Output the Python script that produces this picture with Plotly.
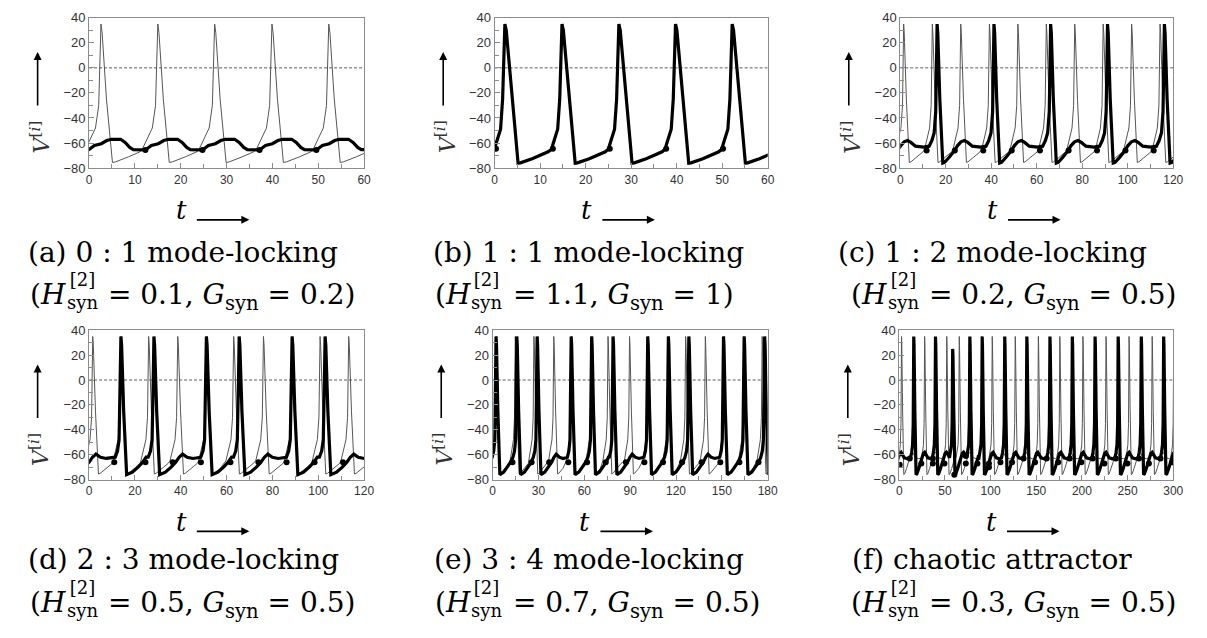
import plotly.graph_objects as go

W, H = 1207, 638

# ---------------- data ----------------
T_END = [60, 60, 120, 120, 180, 300]

# spike-peak times of neuron 1 (thin line) and neuron 2 (thick line)
a_thin = [-9.85, 2.6, 15.0, 27.4, 39.9, 52.3, 64.7]
a_thick_cycle = [-0.13, 12.3, 24.75, 37.2, 49.6, 62.0]      # (a) thick does not spike
b_thick = [-10.25, 2.25, 14.8, 27.3, 39.75, 52.2, 64.7]
c_thin = [-11.0, 1.5, 14.1, 26.6, 39.2, 51.7, 64.2, 76.7, 89.2, 101.7, 114.2, 126.7]
c_thick = [-8.8, 16.2, 41.2, 66.1, 91.1, 116.1, 141.0]
d_thin = [-10.8, 1.6, 13.9, 26.0, 38.7, 51.2, 63.1, 76.1, 88.6, 100.8, 113.3, 125.7]
d_thick = [-9.5, 13.9, 28.3, 51.2, 65.5, 88.6, 103.0, 126.0]
e_thin = [-10.3, 2.2, 14.8, 27.0, 40.0, 51.6, 64.5, 75.5, 89.6, 101.6, 114.8, 126.3,
          139.2, 151.3, 164.3, 176.4, 189.0]
e_thick = [-20.5, 2.2, 15.8, 29.1, 51.4, 64.8, 78.8, 101.5, 115.0, 128.4, 151.1, 164.6,
           178.0, 200.0]
f_thin = [-10.0, 2.5, 27.8, 52.0, 65.7, 90.3, 101.8, 127.0, 152.3, 175.8, 201.1, 226.4,
          251.6, 276.9, 300.5, 325.0]
f_thick = [-10.0, 15.9, 39.7, 58.5, 77.3, 90.8, 115.5, 139.7, 165.0, 189.5, 214.4, 239.7,
           265.0, 289.5, 314.0]
f_thick_peak = [35, 35, 35, 25, 35, 35, 35, 35, 35, 35, 35, 35, 35, 35, 35]

# section points (black dots)
a_dot_t = [12.3, 24.75, 37.2, 49.6]
a_dot_v = [-65.5, -65.5, -65.5, -65.5]
b_dot_t = [0.3, 12.8, 25.3, 37.7, 50.2]
b_dot_v = [-64.5, -64.5, -64.5, -64.5, -64.5]
c_dot_t = [11.6, 24.0, 36.5, 49.0, 61.4, 74.0, 86.5, 99.0, 111.4]
c_dot_v = [-66, -66, -66, -66, -66, -66, -66, -66, -66]
d_dot_t = [11.0, 24.6, 36.5, 48.8, 61.7, 73.9, 86.2, 98.4, 110.8]
d_dot_v = [-66, -66, -66, -66, -66, -66, -66, -66, -66]
e_dot_t = [13.0, 25.5, 37.0, 49.5, 61.8, 74.0, 87.2, 99.3, 111.5, 124.0, 136.8, 149.0,
           161.5, 174.0]
e_dot_v = [-66, -66, -66, -66, -66, -66, -66, -66, -66, -66, -66, -66, -66, -66]
f_dot_t = [0.5, 11.5, 24.2, 36.8, 36.8, 49.5, 60.3, 72.9, 72.9, 85.6, 98.2, 98.2, 110.8,
           123.5, 136.1, 148.7, 161.4, 174.0, 186.6, 199.3, 211.9, 224.6, 237.2, 249.8,
           262.5, 273.3, 286.0, 298.6]
f_dot_v = [-68, -63, -67, -63, -67, -67, -76, -61, -67, -67, -67, -70, -66, -66, -63, -66,
           -63, -66, -63, -66, -63, -67, -63, -67, -63, -67, -63, -66]

# waveform knots: (offset from spike peak, voltage)
PEAK_V = 35
THIN_POST = [(0.25, 28), (1.2, -25), (2.5, -75.5), (3.2, -75), (6.0, -71), (8.5, -67)]
THIN_PRE = [(-3.4, -65), (-2.3, -56), (-1.2, -48), (-0.5, -30), (-0.2, 5)]
A_THICK_V0 = -65.5
A_THICK_POST = [(1.3, -62), (2.8, -60.5), (4.0, -58), (5.0, -57), (7.0, -57), (8.0, -59.5),
                (9.0, -63.5), (9.8, -65.2), (12.0, -65.4)]
B_POST = [(0.3, 30), (1.0, 0), (2.9, -76), (3.4, -75.8), (6.0, -72.5), (9.5, -67)]
B_PRE = [(-2.3, -65), (-1.9, -60), (-1.4, -55), (-0.95, -49), (-0.5, -25), (-0.2, 20)]
SLOW_POST = [(0.3, 28), (1.2, -25), (2.5, -76), (3.3, -75.5), (5.5, -71), (7.5, -66.5),
             (9.0, -62), (10.5, -59), (12.0, -58), (13.5, -59.5), (15.5, -62.5), (19.0, -63.2)]
SLOW_PRE = [(-3.5, -62.5), (-2.3, -58), (-1.3, -52), (-0.6, -35), (-0.2, 10)]
PAIR_POST = [(0.3, 28), (1.2, -25), (2.5, -76), (5.0, -74), (7.5, -70), (9.5, -66),
             (11.0, -62), (12.5, -59.5), (14.5, -62), (17.0, -63)]
PAIR_PRE = [(-2.5, -62), (-1.5, -57), (-0.8, -48), (-0.3, 0)]

XTICK = [10, 10, 20, 20, 30, 50]
XMINOR = [5, 5, 10, 10, 15, 25]

CAP1 = ["(a) 0 : 1 mode-locking", "(b) 1 : 1 mode-locking", "(c) 1 : 2 mode-locking",
        "(d) 2 : 3 mode-locking", "(e) 3 : 4 mode-locking", "(f) chaotic attractor"]
H_VAL = ["0.1", "1.1", "0.2", "0.5", "0.7", "0.3"]
G_VAL = ["0.2", "1", "0.5", "0.5", "0.5", "0.5"]


def build(events, peak, post, pre):
    peaks = peak if isinstance(peak, list) else [peak] * len(events)

    def lim(v, p):
        return v if (p < 0 or v < p) else p - 5

    ts, vs = [], []
    for i, e in enumerate(events):
        ts.append(e)
        vs.append(peaks[i])
        if i + 1 == len(events):
            break
        n = events[i + 1]
        start_pre = n + (pre[0][0] if pre else 0)
        for dt, v in post:
            if e + dt < start_pre - 0.2:
                ts.append(e + dt)
                vs.append(lim(v, peaks[i]))
        for dt, v in pre:
            if n + dt > ts[-1]:
                ts.append(n + dt)
                vs.append(lim(v, peaks[i + 1]))
    return ts, vs


thin = [build(a_thin, PEAK_V, THIN_POST, THIN_PRE),
        build(b_thick, PEAK_V, B_POST, B_PRE),
        build(c_thin, PEAK_V, THIN_POST, THIN_PRE),
        build(d_thin, PEAK_V, THIN_POST, THIN_PRE),
        build(e_thin, PEAK_V, THIN_POST, THIN_PRE),
        build(f_thin, PEAK_V, SLOW_POST, SLOW_PRE)]
thick = [build(a_thick_cycle, A_THICK_V0, A_THICK_POST, []),
         build(b_thick, PEAK_V, B_POST, B_PRE),
         build(c_thick, PEAK_V, SLOW_POST, SLOW_PRE),
         build(d_thick, PEAK_V, PAIR_POST, PAIR_PRE),
         build(e_thick, PEAK_V, PAIR_POST, PAIR_PRE),
         build(f_thick, f_thick_peak, SLOW_POST, SLOW_PRE)]
dots = [(a_dot_t, a_dot_v), (b_dot_t, b_dot_v), (c_dot_t, c_dot_v),
        (d_dot_t, d_dot_v), (e_dot_t, e_dot_v), (f_dot_t, f_dot_v)]

# ---------------- layout (pixel boxes) ----------------
BOX = [(87, 365, 11, 165), (497, 773, 11, 165), (907, 1183, 11, 165),
       (87, 365, 331, 484), (495, 773, 331, 484), (906, 1183, 331, 484)]


def px(x):
    return x / W


def py(y):
    return 1 - y / H


fig = go.Figure()
layout = dict(width=W, height=H, autosize=False, margin=dict(l=0, r=0, t=0, b=0),
              paper_bgcolor="white", plot_bgcolor="white", showlegend=False)
annotations = []
FRAME = "#8c8c8c"


def text_ann(x, y, text, size, xanchor="center", yanchor="middle", angle=0, color="black"):
    return dict(x=px(x), y=py(y), xref="paper", yref="paper", text=text, showarrow=False,
                xanchor=xanchor, yanchor=yanchor, textangle=angle, borderpad=0,
                font=dict(family="DejaVu Serif", size=size, color=color))


def arrow_ann(x, y, ax, ay):
    return dict(x=px(x), y=py(y), ax=ax, ay=ay, xref="paper", yref="paper", text="",
                showarrow=True, arrowhead=2, arrowsize=1, arrowwidth=1.6,
                arrowcolor="black", standoff=0, startstandoff=0)


for k in range(6):
    n = "" if k == 0 else str(k + 1)
    x0, x1, y0, y1 = BOX[k]
    T = T_END[k]
    layout["xaxis" + n] = dict(
        domain=[px(x0), px(x1)], anchor="y" + n, range=[0, T], dtick=XTICK[k], tick0=0,
        showgrid=False, zeroline=False, showline=True, mirror=True, linecolor=FRAME,
        linewidth=1, ticks="inside", ticklen=5, tickcolor=FRAME,
        minor=dict(dtick=XMINOR[k], ticks="inside", ticklen=4, tickcolor=FRAME, showgrid=False),
        tickfont=dict(family="Liberation Sans, Arial", size=12, color="#333"))
    layout["yaxis" + n] = dict(
        domain=[py(y1), py(y0)], anchor="x" + n, range=[-80, 40], dtick=20, tick0=0,
        showgrid=False, zeroline=False, showline=True, mirror=True, linecolor=FRAME,
        linewidth=1, ticks="inside", ticklen=5, tickcolor=FRAME,
        minor=dict(dtick=10, ticks="inside", ticklen=4, tickcolor=FRAME, showgrid=False),
        tickfont=dict(family="Liberation Sans, Arial", size=13, color="#333"))
    xa, ya = "x" + n, "y" + n
    fig.add_trace(go.Scatter(x=[0, T], y=[0, 0], xaxis=xa, yaxis=ya, mode="lines",
                             line=dict(color="#333", width=0.8, dash="3px,2px"),
                             hoverinfo="skip"))
    fig.add_trace(go.Scatter(x=thin[k][0], y=thin[k][1], xaxis=xa, yaxis=ya, mode="lines",
                             line=dict(color="#555", width=1), hoverinfo="skip"))
    fig.add_trace(go.Scatter(x=thick[k][0], y=thick[k][1], xaxis=xa, yaxis=ya, mode="lines",
                             line=dict(color="black", width=3.2), hoverinfo="skip"))
    fig.add_trace(go.Scatter(x=dots[k][0], y=dots[k][1], xaxis=xa, yaxis=ya, mode="markers",
                             marker=dict(color="black", size=6), hoverinfo="skip"))

    # t -> label
    row_dy = 0 if k < 3 else 319
    annotations.append(text_ann(x0 + 93, 208 + row_dy, "<i>t</i>", 26))
    annotations.append(arrow_ann(x0 + 162, 218 + row_dy, -54, 0))
    # V^[i] label with up arrow
    vx = x0 - 52
    vrow = 0 if k < 3 else 320
    annotations.append(arrow_ann(vx, 46 + vrow, 0, 55))
    annotations.append(text_ann(vx + 2, 133 + vrow, "<i>V</i><sup>[<i>i</i>]</sup>", 22,
                                angle=-90, color="#333"))
    # captions
    cap_dy = 0 if k < 3 else 315
    cx = [182, 592, 1000][k % 3]
    annotations.append(text_ann(cx, 251 + cap_dy, CAP1[k], 28))
    lx = [28, 437, 858][k % 3]
    top = 277 + cap_dy
    annotations.append(text_ann(lx + 37, top, "(<i>H</i>", 28, xanchor="right",
                                yanchor="top"))
    annotations.append(text_ann(lx + 52, 291 + cap_dy, "[2]<br>syn", 18))
    rest = " = " + H_VAL[k] + ", <i>G</i><sub>syn</sub> = " + G_VAL[k] + ")"
    annotations.append(text_ann(lx + 68, top, rest, 28, xanchor="left", yanchor="top"))

layout["annotations"] = annotations
fig.update_layout(**layout)
fig.write_html("out.html", post_script="document.body.style.margin='0px';",
               config={"displayModeBar": False})
